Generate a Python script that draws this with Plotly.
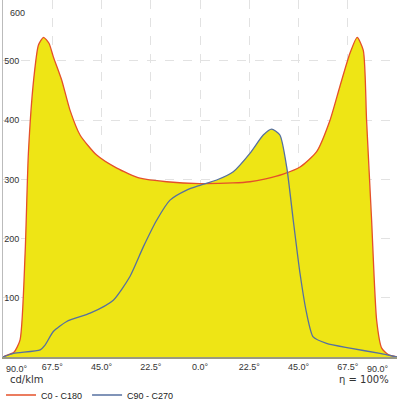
import plotly.graph_objects as go

# C0 - C180 plane (angle in degrees, cd/klm)
c0_angles = [-90, -89, -85, -82.2, -79.9, -78.4, -76, -73.8, -71.5, -69, -67, -63.2, -59.4,
             -54.8, -47.2, -38, -27.4, -15.2, 0, 15, 22.8, 30, 38, 45.7, 53.3, 59.4,
             63.9, 68.5, 71.8, 74.6, 76.1, 78.4, 80.7, 83, 86, 90]
c0_values = [0, 2, 8, 29, 175, 344, 468, 527, 540, 530, 507, 468, 417,
             375, 341, 319, 302, 296, 293, 294, 296, 301, 309, 321, 347, 400,
             457, 513, 540, 518, 400, 231, 62, 15, 4, 0]

# C90 - C270 plane
c90_angles = [-90, -85.2, -73, -70.8, -67, -60.9, -50.2, -39.6, -32, -25.9, -19.8, -13.7,
              -6.1, 0, 7.6, 15.2, 22.8, 28.9, 32.7, 36.5, 39.6, 42.6, 45.7, 48.7, 51.7,
              57.8, 68.5, 82.2, 90]
c90_values = [0, 6, 12, 20, 43, 60, 74, 96, 136, 186, 231, 265,
              282, 290, 299, 313, 344, 375, 385, 375, 321, 231, 141, 74, 34,
              23, 15, 6, 0]

tick_vals = [-67.5, -45, -22.5, 0, 22.5, 45, 67.5]
tick_text = ["67.5°", "45.0°", "22.5°", "0.0°", "22.5°", "45.0°", "67.5°"]
y_ticks = [100, 200, 300, 400, 500]

YELLOW = "#EEE515"
RED = "#E4502A"
BLUE = "#5670A0"
TXT = "#333"

fig = go.Figure()

# yellow fills first, then the outlines on top
for ang, val in [(c0_angles, c0_values), (c90_angles, c90_values)]:
    fig.add_trace(go.Scatter(x=ang, y=val, mode="lines", fill="tozeroy",
                             fillcolor=YELLOW, line=dict(width=0, shape="spline", smoothing=0.6),
                             showlegend=False, hoverinfo="skip"))

fig.add_trace(go.Scatter(x=c0_angles, y=c0_values, mode="lines", name="C0 - C180",
                         line=dict(color=RED, width=1.3, shape="spline", smoothing=0.6)))
fig.add_trace(go.Scatter(x=c90_angles, y=c90_values, mode="lines", name="C90 - C270",
                         line=dict(color=BLUE, width=1.3, shape="spline", smoothing=0.6)))

# edge labels that plotly would drop (they sit on the plot border)
edge_notes = [
    dict(text="90.0°", x=-90, y=0, xref="x", yref="y", xanchor="left", yanchor="top",
         xshift=1, yshift=-5, showarrow=False, font=dict(size=9, color=TXT)),
    dict(text="90.0°", x=90, y=0, xref="x", yref="y", xanchor="right", yanchor="top",
         xshift=-6, yshift=-5, showarrow=False, font=dict(size=9, color=TXT)),
    dict(text="600", x=0, y=600, xref="paper", yref="y", xanchor="left", yanchor="middle",
         xshift=5, yshift=-11, showarrow=False, font=dict(size=9, color=TXT)),
    dict(text="cd/klm", x=0.012, y=-0.062, xref="paper", yref="paper",
         xanchor="left", yanchor="middle", showarrow=False,
         font=dict(family="DejaVu Sans", size=10, color=TXT)),
    dict(text="η = 100%", x=0.985, y=-0.062, xref="paper", yref="paper",
         xanchor="right", yanchor="middle", showarrow=False,
         font=dict(family="DejaVu Sans", size=10, color=TXT)),
]

fig.update_layout(
    width=400, height=400,
    margin=dict(l=3, r=3, t=0, b=43, autoexpand=False),
    paper_bgcolor="white", plot_bgcolor="white",
    font=dict(family="Liberation Sans", size=9, color=TXT),
    legend=dict(orientation="h", x=-0.005, xanchor="left", y=-0.1064, yanchor="middle",
                font=dict(size=9, color="#222"), itemwidth=30, tracegroupgap=0,
                bgcolor="rgba(0,0,0,0)"),
    annotations=edge_notes,
)
fig.update_xaxes(range=[-90, 90], tickvals=tick_vals, ticktext=tick_text,
                 showgrid=True, gridcolor="#e2e2e2", griddash="dash", gridwidth=1,
                 showline=True, linecolor="#9a9a80", linewidth=1.5, zeroline=False,
                 ticks="", automargin=False, tickfont=dict(size=9, color=TXT))
fig.update_yaxes(range=[0, 603], tickvals=y_ticks,
                 ticklabelposition="inside", showgrid=True, gridcolor="#e2e2e2",
                 griddash="dash", gridwidth=1, showline=True, linecolor="#bbbbbb",
                 linewidth=1, zeroline=False, ticks="", automargin=False,
                 tickfont=dict(size=9, color=TXT))

fig.write_html("out.html", config={"displayModeBar": False},
               post_script="document.body.style.margin='0';")
